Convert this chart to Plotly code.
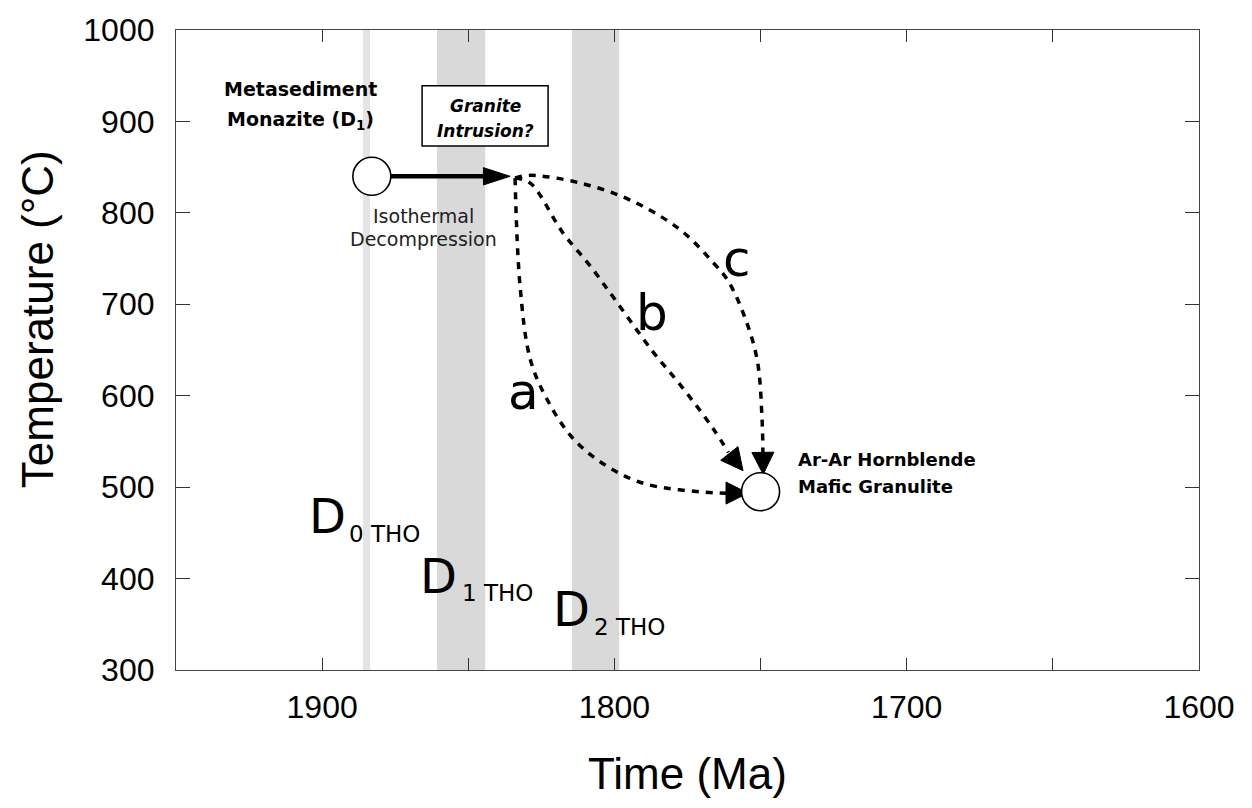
import plotly.graph_objects as go

# Deformation-event bands (Ma ranges)
band_d0 = [1886.0, 1883.6]
band_d1 = [1860.7, 1844.2]
band_d2 = [1814.5, 1798.4]

# Dated samples: (time Ma, temperature C)
monazite_age, monazite_temp = 1883.0, 840.0
hornblende_age, hornblende_temp = 1750.0, 495.0

# Isothermal decompression: arrow shaft and tip
decomp_age = [1876.5, 1841.0]
decomp_temp = [840.0, 840.0]
decomp_tip = (1835.7, 840.0)

# Alternative cooling paths
path_a_age = [1834.0, 1832.3, 1828.8, 1823.0, 1814.1, 1802.5, 1788.8, 1763.9, 1760.0]
path_a_temp = [838.0, 720.7, 640.0, 595.7, 553.0, 522.8, 503.0, 493.5, 493.5]
path_b_age = [1834.0, 1828.8, 1817.6, 1808.3, 1799.1, 1786.8, 1777.5, 1766.2, 1761.0]
path_b_temp = [838.0, 832.6, 778.0, 742.0, 702.0, 648.0, 612.0, 564.0, 538.0]
path_c_age = [1834.0, 1828.8, 1811.7, 1794.6, 1777.5, 1766.2, 1761.4, 1756.0, 1751.2, 1749.5, 1749.2]
path_c_temp = [838.0, 841.0, 832.6, 814.0, 781.5, 745.6, 727.0, 691.0, 640.0, 575.0, 535.0]

# Arrow tips for each path
tip_a = (1754.3, 493.5)
tip_b = (1756.0, 518.0)
tip_c = (1749.1, 514.0)

x_ticks = [1900, 1800, 1700, 1600]
x_minor_ticks = [1850, 1750, 1650]
y_ticks = [300, 400, 500, 600, 700, 800, 900, 1000]

# "Granite Intrusion?" box extent (Ma, C)
granite_box_age = [1865.8, 1822.7]
granite_box_temp = [873.0, 939.0]

fig = go.Figure()

for band, col in [(band_d0, "#e4e4e4"), (band_d1, "#d9d9d9"), (band_d2, "#d9d9d9")]:
    fig.add_shape(type="rect", xref="x", yref="paper", x0=band[0], x1=band[1], y0=0, y1=1,
                  fillcolor=col, line=dict(width=0), layer="below")

fig.add_shape(type="rect", xref="x", yref="y", x0=granite_box_age[0], x1=granite_box_age[1],
              y0=granite_box_temp[0], y1=granite_box_temp[1], fillcolor="white",
              line=dict(color="black", width=1.5), layer="above")

# Dashed cooling paths with arrowheads
dash_style = "7px,7px"
for xs, ys, tip in [(path_a_age, path_a_temp, tip_a), (path_b_age, path_b_temp, tip_b),
                    (path_c_age, path_c_temp, tip_c)]:
    fig.add_trace(go.Scatter(x=xs, y=ys, mode="lines",
                             line=dict(color="black", width=3.5, dash=dash_style, shape="spline"),
                             hoverinfo="skip", showlegend=False))
    fig.add_trace(go.Scatter(x=[xs[-1], tip[0]], y=[ys[-1], tip[1]], mode="markers",
                             marker=dict(symbol="arrow-up", size=[0, 22], color="black", angleref="previous",
                                         opacity=1, line=dict(width=1, color="black")),
                             hoverinfo="skip", showlegend=False))

# Isothermal decompression arrow
fig.add_trace(go.Scatter(x=decomp_age, y=decomp_temp, mode="lines", line=dict(color="black", width=4.5),
                         hoverinfo="skip", showlegend=False))
fig.add_trace(go.Scatter(x=[decomp_age[-1], decomp_tip[0]], y=[decomp_temp[-1], decomp_tip[1]], mode="markers",
                         marker=dict(symbol="arrow", size=[0, 28], color="black", angleref="previous",
                                     opacity=1, line=dict(width=1, color="black")),
                         hoverinfo="skip", showlegend=False))

# Sample circles
fig.add_trace(go.Scatter(x=[monazite_age, hornblende_age], y=[monazite_temp, hornblende_temp], mode="markers",
                         marker=dict(symbol="circle", size=38, color="white", line=dict(color="black", width=1.6)),
                         showlegend=False))

label_font = "DejaVu Sans"


def note(x, y, text, size, bold=False, italic=False, color="black", xanchor="center"):
    if bold:
        text = "<b>" + text + "</b>"
    if italic:
        text = "<i>" + text + "</i>"
    return dict(x=x, y=y, text=text, showarrow=False, xanchor=xanchor,
                font=dict(family=label_font, size=size, color=color))


annotations = [
    note(1907.5, 935, "Metasediment", 19, bold=True),
    note(1907.5, 901, "Monazite (D<sub>1</sub>)", 19, bold=True),
    note(1844.2, 917, "Granite", 17, bold=True, italic=True),
    note(1844.2, 890, "Intrusion?", 17, bold=True, italic=True),
    note(1865.4, 797, "Isothermal", 19, color="#222222"),
    note(1865.4, 771, "Decompression", 19, color="#222222"),
    note(1738, 530, "Ar-Ar Hornblende", 18, bold=True, xanchor="left"),
    note(1738, 501, "Mafic Granulite", 18, bold=True, xanchor="left"),
    note(1831, 604, "a", 50),
    note(1787, 690, "b", 50),
    note(1758, 750, "c", 50),
    note(1898.0, 468, "D", 48),
    note(1891.6, 449, "0 THO", 23, xanchor="left"),
    note(1860.3, 403, "D", 48),
    note(1853.0, 384, "1 THO", 23, xanchor="left"),
    note(1814.8, 367, "D", 48),
    note(1807.8, 347, "2 THO", 23, xanchor="left"),
    dict(x=-0.136, y=0.548, xref="paper", yref="paper", xanchor="center", yanchor="middle",
         text="Temperature (°C)", textangle=-90,
         showarrow=False, font=dict(family="Liberation Sans, Arial", size=44, color="black")),
]

fig.update_layout(
    width=1252, height=808,
    margin=dict(l=176, r=53, t=26, b=138),
    paper_bgcolor="white", plot_bgcolor="white",
    annotations=annotations,
    font=dict(family="Liberation Sans, Arial", color="black"),
    xaxis=dict(range=[1950, 1600], tickvals=x_ticks, ticks="inside", ticklen=12,
               minor=dict(tickvals=x_minor_ticks, ticks="inside", ticklen=12, tickcolor="#333"),
               tickcolor="#333", showline=True, linecolor="#444", linewidth=1.2, mirror="ticks",
               showgrid=False, zeroline=False, tickfont=dict(size=32), ticklabelstandoff=8,
               title=dict(text="Time (Ma)", font=dict(size=44), standoff=34)),
    yaxis=dict(range=[300, 1000], tickvals=y_ticks, ticks="inside", ticklen=14,
               tickcolor="#333", showline=True, linecolor="#444", linewidth=1.2, mirror="ticks",
               showgrid=False, zeroline=False, tickfont=dict(size=32), ticklabelstandoff=14),
)

fig.write_html("out.html")
